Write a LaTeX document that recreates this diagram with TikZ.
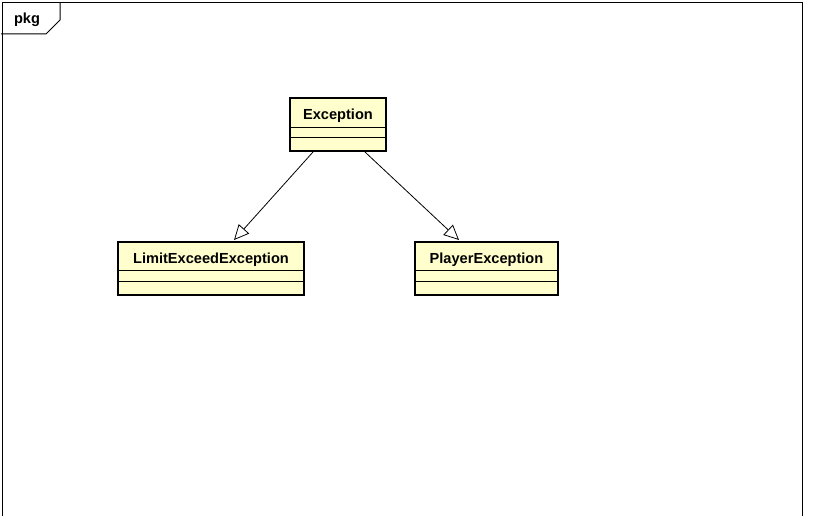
\documentclass[tikz,border=0pt]{standalone}
\usepackage{fontspec}
\setmainfont{Liberation Sans}
\usetikzlibrary{arrows.meta,calc}
\definecolor{clsfill}{RGB}{255,255,206}
\tikzset{
  cls/.style={draw=black, line width=2pt, fill=clsfill, rectangle, inner sep=0pt, anchor=north west, minimum height=53pt},
  clsname/.style={font=\bfseries\fontsize{14.6}{17}\selectfont, inner sep=0pt},
  sep/.style={line width=0.9pt},
  gen/.style={line width=0.8pt, -{Triangle[open, length=15pt, width=14pt, fill=white]}},
  frame/.style={line width=1pt}
}
\begin{document}
\begin{tikzpicture}[x=1pt, y=-1pt]
\useasboundingbox[fill=white] (0,0) rectangle (823,516);
% package frame
\draw[frame] (2,520) -- (2,3) -- (802,3) -- (802,520);
\draw[frame] (1,34) -- (46,34) -- (60,20) -- (60,3);
\node[clsname] (pkg) at (27,20) {pkg};
% classes
\node[cls, minimum width=96pt] (exc) at (289,97) {};
\node[clsname] (exct) at ($(exc.north)+(0,18.5)$) {Exception};
\draw[sep] ($(exc.north west)+(0,30)$) -- ($(exc.north east)+(0,30)$);
\draw[sep] ($(exc.north west)+(0,40)$) -- ($(exc.north east)+(0,40)$);

\node[cls, minimum width=186pt] (lim) at (117,241) {};
\node[clsname] (limt) at ($(lim.north)+(0,18.5)$) {LimitExceedException};
\draw[sep] ($(lim.north west)+(0,29)$) -- ($(lim.north east)+(0,29)$);
\draw[sep] ($(lim.north west)+(0,40)$) -- ($(lim.north east)+(0,40)$);

\node[cls, minimum width=143pt] (ply) at (414,241) {};
\node[clsname] (plyt) at ($(ply.north)+(0,18.5)$) {PlayerException};
\draw[sep] ($(ply.north west)+(0,29)$) -- ($(ply.north east)+(0,29)$);
\draw[sep] ($(ply.north west)+(0,40)$) -- ($(ply.north east)+(0,40)$);
% generalizations
\draw[gen] ($(exc.south west)+(24,0)$) -- ($(lim.north west)+(117,-1)$);
\draw[gen] ($(exc.south west)+(76,0)$) -- ($(ply.north west)+(45,-1)$);
\end{tikzpicture}
\end{document}
